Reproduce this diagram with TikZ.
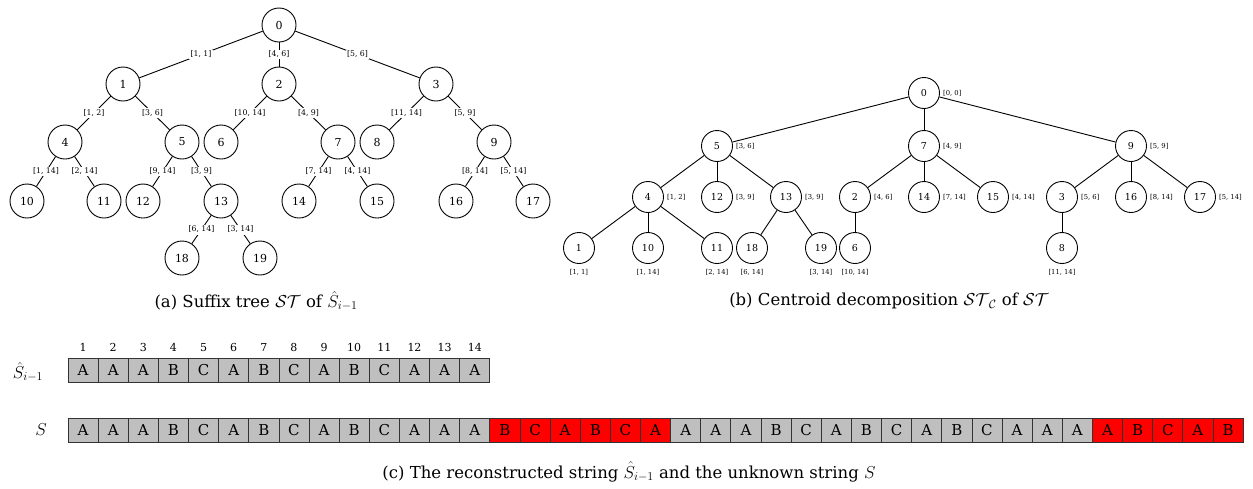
\documentclass[tikz,border=0pt]{standalone}
\usepackage{amsmath}
\usepackage{fontspec}
\setmainfont{DejaVu Serif}
\begin{document}
\begin{tikzpicture}[x=1pt,y=-1pt,
  anode/.style={circle,draw,line width=0.9pt,minimum size=34pt,inner sep=0pt,font=\fontsize{11}{11}\selectfont},
  bnode/.style={circle,draw,line width=0.9pt,minimum size=31pt,inner sep=0pt,font=\fontsize{9.5}{9.5}\selectfont},
  elab/.style={fill=white,inner sep=1.5pt,font=\fontsize{7.8}{7.8}\selectfont},
  blab/.style={inner sep=1pt,font=\fontsize{6.8}{6.8}\selectfont},
  edge/.style={line width=0.9pt},
  cell/.style={draw=black!80,line width=0.8pt,fill=gray!50,minimum width=30.13pt,minimum height=24pt,inner sep=0pt,text height=10.5pt,text depth=0pt,font=\fontsize{15}{15}\selectfont},
  redcell/.style={cell,fill=red},
  idx/.style={font=\fontsize{11}{11}\selectfont,inner sep=0pt,anchor=base},
  capt/.style={font=\fontsize{16.5}{16.5}\selectfont,inner sep=0pt}
]
\useasboundingbox (0,0) rectangle (1253,488);
% ---------- (a) suffix tree
\node[anode] (a0) at (279,25) {0};
\node[anode] (a1) at (123,84) {1};
\node[anode] (a2) at (279,84) {2};
\node[anode] (a3) at (436,84) {3};
\node[anode] (a4) at (65,142) {4};
\node[anode] (a5) at (182,142) {5};
\node[anode] (a6) at (221,142) {6};
\node[anode] (a7) at (338,142) {7};
\node[anode] (a8) at (377,142) {8};
\node[anode] (a9) at (494,142) {9};
\node[anode] (a10) at (27,201) {10};
\node[anode] (a11) at (104,201) {11};
\node[anode] (a12) at (143,201) {12};
\node[anode] (a13) at (221,201) {13};
\node[anode] (a14) at (299,201) {14};
\node[anode] (a15) at (377,201) {15};
\node[anode] (a16) at (456,201) {16};
\node[anode] (a17) at (533,201) {17};
\node[anode] (a18) at (182,258) {18};
\node[anode] (a19) at (260,258) {19};
\draw[edge] (a0) -- node[elab]{[1, 1]} (a1);
\draw[edge] (a0) -- node[elab]{[4, 6]} (a2);
\draw[edge] (a0) -- node[elab]{[5, 6]} (a3);
\draw[edge] (a1) -- node[elab]{[1, 2]} (a4);
\draw[edge] (a1) -- node[elab]{[3, 6]} (a5);
\draw[edge] (a2) -- node[elab]{[10, 14]} (a6);
\draw[edge] (a2) -- node[elab]{[4, 9]} (a7);
\draw[edge] (a3) -- node[elab]{[11, 14]} (a8);
\draw[edge] (a3) -- node[elab]{[5, 9]} (a9);
\draw[edge] (a4) -- node[elab]{[1, 14]} (a10);
\draw[edge] (a4) -- node[elab]{[2, 14]} (a11);
\draw[edge] (a5) -- node[elab]{[9, 14]} (a12);
\draw[edge] (a5) -- node[elab]{[3, 9]} (a13);
\draw[edge] (a7) -- node[elab]{[7, 14]} (a14);
\draw[edge] (a7) -- node[elab]{[4, 14]} (a15);
\draw[edge] (a9) -- node[elab]{[8, 14]} (a16);
\draw[edge] (a9) -- node[elab]{[5, 14]} (a17);
\draw[edge] (a13) -- node[elab]{[6, 14]} (a18);
\draw[edge] (a13) -- node[elab]{[3, 14]} (a19);
\node[capt] (capa) at (256,301) {(a) Suffix tree $\mathcal{ST}$ of $\hat{S}_{i-1}$};
% ---------- (b) centroid decomposition
\tikzset{rl/.style={label={[blab,label distance=2pt]right:#1}},
         bl/.style={label={[blab,label distance=4pt]below:#1}}}
\node[bnode,rl={[0, 0]}] (b0) at (924,93) {0};
\node[bnode,rl={[3, 6]}] (b5) at (717,146) {5};
\node[bnode,rl={[4, 9]}] (b7) at (924,146) {7};
\node[bnode,rl={[5, 9]}] (b9) at (1131,146) {9};
\node[bnode,rl={[1, 2]}] (b4) at (648,197) {4};
\node[bnode,rl={[3, 9]}] (b12) at (717,197) {12};
\node[bnode,rl={[3, 9]}] (b13) at (786,197) {13};
\node[bnode,rl={[4, 6]}] (b2) at (855,197) {2};
\node[bnode,rl={[7, 14]}] (b14) at (924,197) {14};
\node[bnode,rl={[4, 14]}] (b15) at (993,197) {15};
\node[bnode,rl={[5, 6]}] (b3) at (1062,197) {3};
\node[bnode,rl={[8, 14]}] (b16) at (1131,197) {16};
\node[bnode,rl={[5, 14]}] (b17) at (1200,197) {17};
\node[bnode,bl={[1, 1]}] (b1) at (579,248) {1};
\node[bnode,bl={[1, 14]}] (b10) at (648,248) {10};
\node[bnode,bl={[2, 14]}] (b11) at (717,248) {11};
\node[bnode,bl={[6, 14]}] (b18) at (752,248) {18};
\node[bnode,bl={[3, 14]}] (b19) at (821,248) {19};
\node[bnode,bl={[10, 14]}] (b6) at (855,248) {6};
\node[bnode,bl={[11, 14]}] (b8) at (1062,248) {8};
\foreach \p/\c in {b0/b5,b0/b7,b0/b9,b5/b4,b5/b12,b5/b13,b7/b2,b7/b14,b7/b15,b9/b3,b9/b16,b9/b17,b4/b1,b4/b10,b4/b11,b13/b18,b13/b19,b2/b6,b3/b8}
  \draw[edge] (\p) -- (\c);
\node[capt] (capb) at (889,301) {(b) Centroid decomposition $\mathcal{ST}_{\mathcal{C}}$ of $\mathcal{ST}$};
% ---------- (c) strings
\foreach \c [count=\i] in {A,A,A,B,C,A,B,C,A,B,C,A,A,A} {
  \node[cell] (h\i) at ({68+30.13*(\i-0.5)},370) {\c};
  \node[idx] (n\i) at ({68+30.13*(\i-0.5)},351) {\i};
}
\foreach \c [count=\i] in {A,A,A,B,C,A,B,C,A,B,C,A,A,A}
  \node[cell] (s\i) at ({68+30.13*(\i-0.5)},430) {\c};
\foreach \c [count=\i from 15] in {B,C,A,B,C,A}
  \node[redcell] (s\i) at ({68+30.13*(\i-0.5)},430) {\c};
\foreach \c [count=\i from 21] in {A,A,A,B,C,A,B,C,A,B,C,A,A,A}
  \node[cell] (s\i) at ({68+30.13*(\i-0.5)},430) {\c};
\foreach \c [count=\i from 35] in {A,B,C,A,B}
  \node[redcell] (s\i) at ({68+30.13*(\i-0.5)},430) {\c};
\node[capt,font=\fontsize{18}{18}\selectfont] (lh) at (28,372) {$\hat{S}_{i-1}$};
\node[capt,font=\fontsize{18}{18}\selectfont] (ls) at (41,430) {$S$};
\node[capt] (capc) at (629,472) {(c) The reconstructed string $\hat{S}_{i-1}$ and the unknown string $S$};
\end{tikzpicture}
\end{document}
